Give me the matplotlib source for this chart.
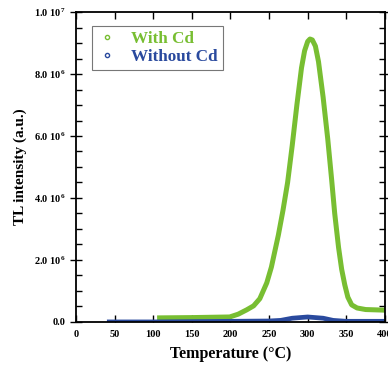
import numpy as np
import matplotlib
matplotlib.use('Agg')
import matplotlib.pyplot as plt
from matplotlib.lines import Line2D
from matplotlib.ticker import MultipleLocator, FuncFormatter

plt.rcParams['font.family'] = ['Liberation Serif', 'DejaVu Serif']
plt.rcParams['font.weight'] = 'bold'
plt.rcParams['mathtext.fontset'] = 'custom'
plt.rcParams['mathtext.rm'] = 'Liberation Serif:bold'
plt.rcParams['mathtext.it'] = 'Liberation Serif:bold'
plt.rcParams['mathtext.bf'] = 'Liberation Serif:bold'

# with Cd (temperature in C, intensity in units of 1e6)
temp_cd = [105, 150, 199, 210, 221, 230, 238, 247, 253, 262, 268, 274, 280, 286, 292, 296, 300,
           303, 306, 310, 314, 320, 326, 331, 335, 340, 344, 348, 352, 357, 364, 375, 400]
tl_cd = [0.13, 0.14, 0.16, 0.25, 0.39, 0.52, 0.75, 1.26, 1.77, 2.8, 3.6, 4.5, 5.7, 7.0, 8.2, 8.75,
         9.05, 9.13, 9.1, 8.9, 8.4, 7.25, 5.9, 4.6, 3.5, 2.4, 1.7, 1.2, 0.8, 0.55, 0.45, 0.4, 0.38]

# without Cd
temp_nocd = [40, 100, 200, 250, 265, 280, 300, 320, 333, 350, 400]
tl_nocd = [0.0, 0.0, 0.02, 0.03, 0.05, 0.12, 0.16, 0.12, 0.05, 0.02, 0.02]

green = '#78be32'
blue = '#2a4a9e'

fig = plt.figure(figsize=(3.88, 3.65), dpi=100)
ax = fig.add_axes([0.196, 0.118, 0.796, 0.849])

ax.plot(temp_cd, np.array(tl_cd) * 1e6, color=green, lw=3.6, solid_capstyle='butt')
ax.plot(temp_nocd, np.array(tl_nocd) * 1e6, color=blue, lw=3.4, solid_capstyle='butt')

ax.set_xlim(0, 400)
ax.set_ylim(0, 1e7)
ax.xaxis.set_major_locator(MultipleLocator(50))
ax.yaxis.set_major_locator(MultipleLocator(2e6))
ax.yaxis.set_minor_locator(MultipleLocator(5e5))


def yfmt(v, pos):
    if v <= 0:
        return '0.0' if v == 0 else ''
    e = int(np.floor(np.log10(v) + 1e-9))
    return '%.1f 10$^{%d}$' % (v / 10 ** e, e)


ax.yaxis.set_major_formatter(FuncFormatter(yfmt))
ax.tick_params(axis='x', which='major', direction='in', length=5, width=1,
               top=True, labelsize=7.5, pad=6)
ax.tick_params(axis='y', which='major', direction='inout', length=8, width=1,
               right=True, labelsize=7.5)
ax.tick_params(axis='y', which='minor', direction='in', length=4, width=1, right=True)
for s in ax.spines.values():
    s.set_linewidth(1.3)

ax.set_xlabel('Temperature (\u00b0C)', fontsize=11.5, fontweight='bold', labelpad=5)
ax.set_ylabel('TL intensity (a.u.)', fontsize=11, fontweight='bold', labelpad=5)

handles = [Line2D([], [], marker='o', ls='none', color=green, mfc='none', ms=3, mew=1),
           Line2D([], [], marker='o', ls='none', color=blue, mfc='none', ms=3, mew=1)]
leg = ax.legend(handles, ['With Cd', 'Without Cd'], loc='upper left',
                bbox_to_anchor=(0.052, 0.955), borderaxespad=0, frameon=True, fancybox=False,
                edgecolor='#555555', handlelength=1.2, handletextpad=0.8,
                borderpad=0.3, labelspacing=0.12, prop={'weight': 'bold', 'size': 12.3})
leg.get_frame().set_linewidth(0.8)
for t, c in zip(leg.get_texts(), [green, blue]):
    t.set_color(c)

fig.savefig('out.png', dpi=100)
